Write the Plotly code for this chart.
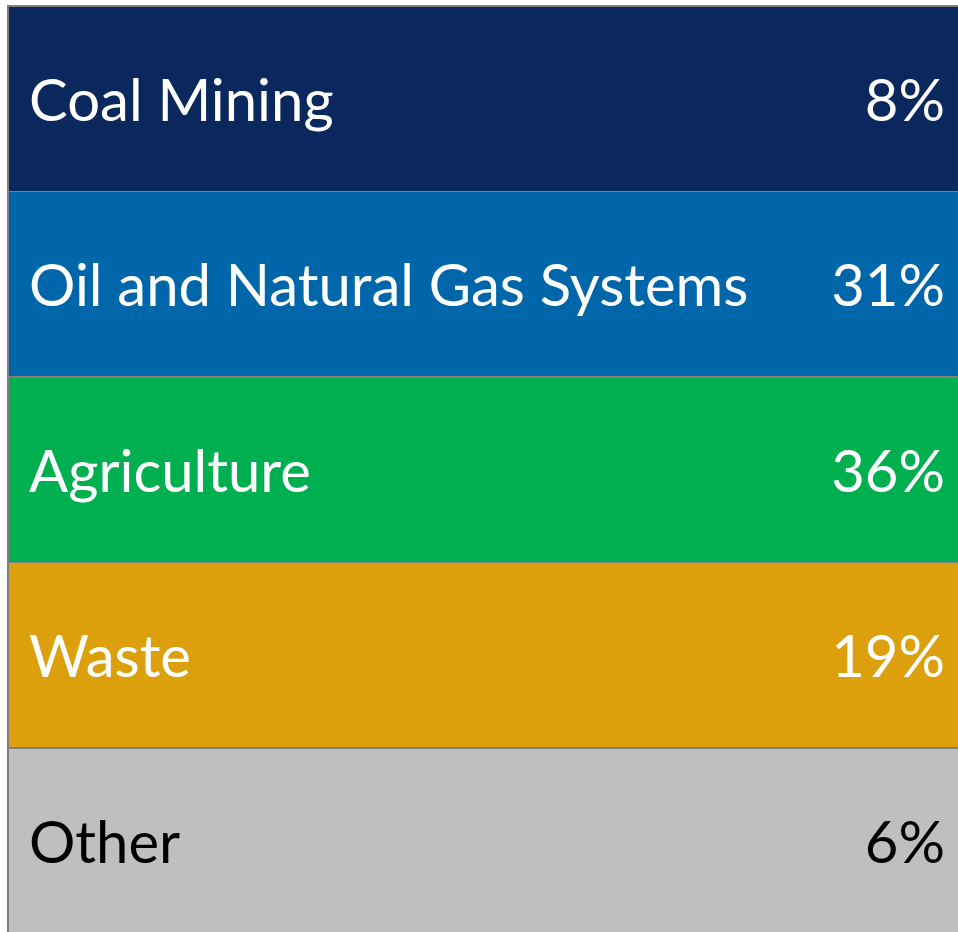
import plotly.graph_objects as go

# methane sources, share of total
sources = ["Coal Mining", "Oil and Natural Gas Systems", "Agriculture", "Waste", "Other"]
shares = [8, 31, 36, 19, 6]
row_colors = ["#0a285e", "#0066aa", "#00b050", "#dba00c", "#bfbfbf"]
text_colors = ["white", "white", "white", "white", "black"]

# figure is a touch wider than the 958px window so the table's right border falls off the edge
W, H = 962, 932
ROW_H = 185.5
TOP = 6          # top edge of the table
TEXT_DROP = 63   # table text sits at the top of a cell, shift overlays down to centre it
FONT = "Lato"
FONT_SIZE = 58

share_labels = [f"{s}%" for s in shares]

no_header = dict(values=[""], height=0, fill_color="rgba(0,0,0,0)", line=dict(width=0))

fig = go.Figure()

# coloured rows ----------------------------------------------------
fig.add_trace(go.Table(
    domain=dict(x=[8 / W, 1], y=[0, 1 - TOP / H]),
    header=no_header,
    cells=dict(
        values=[[""] * len(sources)],
        height=ROW_H,
        fill_color=[row_colors],
        line=dict(color="#7f7f7f", width=1.5),
    ),
))

# category names, transparent overlay --------------------------------
fig.add_trace(go.Table(
    domain=dict(x=[21 / W, 1], y=[0, 1 - (TOP + TEXT_DROP) / H]),
    header=no_header,
    cells=dict(
        values=[sources],
        height=ROW_H,
        align="left",
        fill_color="rgba(0,0,0,0)",
        line=dict(width=0),
        font=dict(family=FONT, size=FONT_SIZE, color=[text_colors]),
    ),
))

# percentages on the right -------------------------------------------
fig.add_trace(go.Table(
    domain=dict(x=[600 / W, 954 / W], y=[0, 1 - (TOP + TEXT_DROP) / H]),
    header=no_header,
    cells=dict(
        values=[share_labels],
        height=ROW_H,
        align="right",
        fill_color="rgba(0,0,0,0)",
        line=dict(width=0),
        font=dict(family=FONT, size=FONT_SIZE, color=[text_colors]),
    ),
))

fig.update_layout(
    width=W, height=H,
    margin=dict(l=0, r=0, t=0, b=0),
    paper_bgcolor="white",
)

# drop the default 8px body margin so the figure fills the window exactly
fig.write_html("out.html",
               config=dict(displayModeBar=False),
               post_script="document.body.style.margin='0';document.body.style.overflow='hidden';")
